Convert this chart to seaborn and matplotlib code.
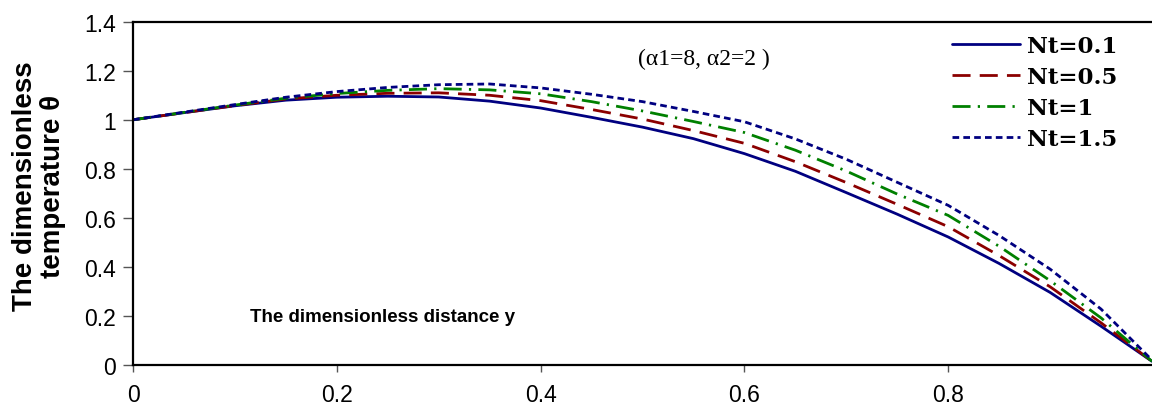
import seaborn as sns
import matplotlib.pyplot as plt
import pandas as pd
from matplotlib.ticker import FormatStrFormatter

# distance y
y = [0.0, 0.05, 0.1, 0.15, 0.2, 0.25, 0.3, 0.35, 0.4, 0.45, 0.5,
     0.55, 0.6, 0.65, 0.7, 0.75, 0.8, 0.85, 0.9, 0.95, 1.0]

# temperature theta for each Nt
nt_01 = [1.000, 1.029, 1.057, 1.080, 1.092, 1.096, 1.093, 1.076, 1.048, 1.010, 0.970,
         0.923, 0.862, 0.790, 0.703, 0.615, 0.522, 0.414, 0.296, 0.158, 0.015]
nt_05 = [1.000, 1.029, 1.058, 1.085, 1.100, 1.108, 1.110, 1.100, 1.078, 1.042, 1.003,
         0.956, 0.904, 0.829, 0.744, 0.655, 0.564, 0.446, 0.319, 0.172, 0.015]
nt_1 = [1.000, 1.030, 1.060, 1.088, 1.107, 1.120, 1.127, 1.122, 1.106, 1.074, 1.036,
        0.993, 0.948, 0.876, 0.791, 0.697, 0.610, 0.484, 0.344, 0.192, 0.015]
nt_15 = [1.000, 1.031, 1.062, 1.092, 1.115, 1.132, 1.143, 1.146, 1.130, 1.104, 1.074,
         1.034, 0.992, 0.922, 0.839, 0.745, 0.651, 0.528, 0.391, 0.228, 0.020]

labels = ["Nt=0.1", "Nt=0.5", "Nt=1", "Nt=1.5"]
series = [nt_01, nt_05, nt_1, nt_15]

rows = []
for lab, vals in zip(labels, series):
    for yy, th in zip(y, vals):
        rows.append({"y": yy, "theta": th, "Nt": lab})
df = pd.DataFrame(rows)

sns.set_style("white")
plt.rcParams["font.family"] = ["Liberation Sans", "DejaVu Sans"]
plt.rcParams["text.color"] = "black"
plt.rcParams["xtick.labelcolor"] = "black"
plt.rcParams["ytick.labelcolor"] = "black"

palette = {"Nt=0.1": "#000080", "Nt=0.5": "#8B0000", "Nt=1": "#008000", "Nt=1.5": "#000080"}
dashes = {"Nt=0.1": "", "Nt=0.5": (6.5, 3.3), "Nt=1": (6.5, 2.6, 0.8, 2.6), "Nt=1.5": (2.4, 1.5)}

fig = plt.figure(figsize=(11.52, 4.06), dpi=100)
ax = fig.add_axes([133 / 1152, 40 / 406, 1019 / 1152, 343.3 / 406])

sns.lineplot(data=df, x="y", y="theta", hue="Nt", style="Nt", palette=palette,
             dashes=dashes, linewidth=2.0, ax=ax, legend=True)

ax.set_xlim(0, 1)
ax.set_ylim(0, 1.4)
ax.set_xticks([0, 0.2, 0.4, 0.6, 0.8])
ax.set_yticks([0, 0.2, 0.4, 0.6, 0.8, 1.0, 1.2, 1.4])
ax.xaxis.set_major_formatter(FormatStrFormatter("%g"))
ax.yaxis.set_major_formatter(FormatStrFormatter("%g"))
ax.tick_params(axis="both", labelsize=16.5, direction="out", width=1,
               color="#555555", labelcolor="black", left=True, bottom=True)
ax.tick_params(axis="y", length=7, pad=5)
ax.tick_params(axis="x", length=5, pad=8)

for side in ["left", "bottom", "top"]:
    ax.spines[side].set_color("black")
    ax.spines[side].set_linewidth(1.6)
ax.spines["right"].set_visible(False)

ax.set_xlabel("")
ax.set_ylabel("")
fig.text(39 / 1152, 1 - 186 / 406, "The dimensionless\ntemperature \u03b8", fontsize=20,
         fontweight="bold", rotation=90, ha="center", va="center",
         multialignment="center", linespacing=1.1, color="black")

ax.text(0.245, 0.196, "The dimensionless distance y", fontsize=13.5, fontweight="bold",
        ha="center", va="center", color="black")
ax.text(0.56, 1.25, "(\u03b11=8, \u03b12=2 )", fontsize=17,
        family=["Liberation Serif", "DejaVu Serif"], ha="center", va="center", color="black")

leg = ax.legend(loc="upper left", bbox_to_anchor=(0.804, 0.96), frameon=False,
                handlelength=2.95, handletextpad=0.3, labelspacing=0.38,
                borderaxespad=0, borderpad=0,
                prop={"family": ["DejaVu Serif"], "weight": "bold", "size": 16.5})
for t in leg.get_texts():
    t.set_color("black")

fig.savefig("out.png", dpi=100)
